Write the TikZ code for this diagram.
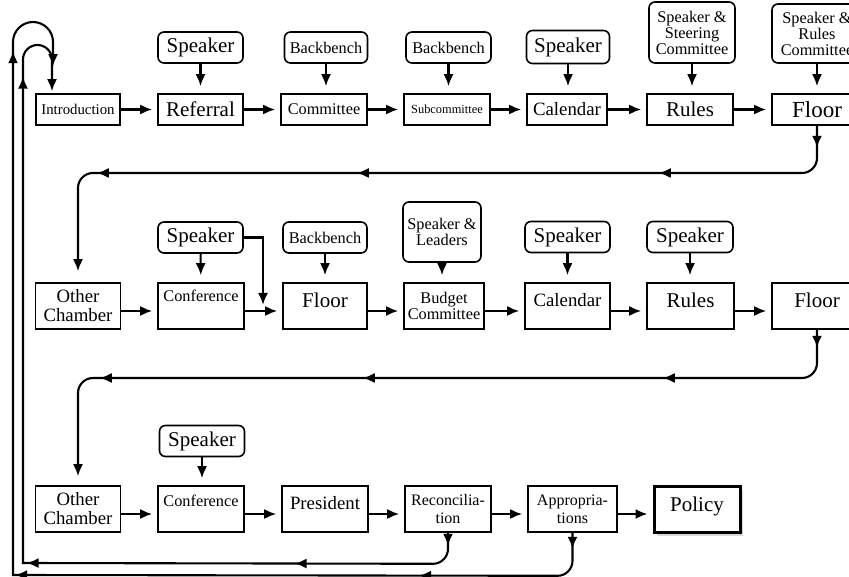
\documentclass[tikz,border=0pt]{standalone}
\usepackage{fontspec}
\setmainfont{Liberation Serif}
\usetikzlibrary{arrows.meta,calc,shadows,decorations.markings}
\newcommand{\headtip}{\arrow{Latex[length=12pt,width=10pt]}}

\begin{document}
\begin{tikzpicture}[x=1pt,y=1pt,
	box/.style={draw,line width=1.6pt,minimum height=31pt,inner sep=1pt,align=center},
	tall/.style={box,minimum height=46pt},
	actor/.style={draw,line width=1.6pt,rounded corners=6pt,minimum height=31pt,inner sep=1pt,align=center},
	lift/.style={text depth=#1},
	flow/.style={line width=2.1pt,-{Latex[length=12pt,width=10pt]}},
	feed/.style={flow,shorten >=7pt},
	next/.style={flow,shorten >=5pt},
	f23/.style={font=\fontsize{23}{23}\selectfont},
	f21/.style={font=\fontsize{21}{21}\selectfont},
	f19/.style={font=\fontsize{18.8}{19}\selectfont},
	f16/.style={font=\fontsize{16.3}{16}\selectfont},
	f15/.style={font=\fontsize{14.8}{15}\selectfont},
	f12/.style={font=\fontsize{12.4}{13}\selectfont}]
		\clip (0,0) rectangle (849,-577);
		% first chamber
		\node[box,minimum width=84pt,f15] (intro) at (78,-109.5) {Introduction};
		\node[box,minimum width=85pt,f21] (ref) at (200.5,-109.5) {Referral};
		\node[box,minimum width=86pt,f16] (comm) at (324,-109.5) {Committee};
		\node[box,minimum width=86pt,f12] (sub) at (447,-109.5) {Subcommittee};
		\node[box,minimum width=80pt,f19] (cal) at (567,-109.5) {Calendar};
		\node[box,minimum width=86pt,f21] (rules) at (690,-109.5) {Rules};
		\node[box,minimum width=90pt,f23] (floor) at (817,-109.5) {Floor};
		\node[actor,minimum width=85pt,f21] (s1) at (200.5,-47.5) {Speaker};
		\node[actor,minimum width=83pt,f16] (b1) at (326,-47.5) {Backbench};
		\node[actor,minimum width=85pt,f16] (b2) at (448.5,-47.5) {Backbench};
		\node[actor,minimum width=83pt,minimum height=33pt,f21] (s2) at (568,-47) {Speaker};
		\node[actor,minimum width=86pt,minimum height=61pt,f16] (ss) at (692,-32.5) {Speaker \&\\Steering\\Committee};
		\node[actor,minimum width=90pt,minimum height=59pt,f16] (sr) at (817,-33.5) {Speaker \&\\Rules\\Committee};
		% second chamber
		\node[tall,minimum width=85pt,f19] (oc2) at (78,-306) {Other\\Chamber};
		\node[tall,minimum width=86pt,f16,lift=20pt] (conf2) at (201,-306) {Conference};
		\node[tall,minimum width=84pt,f21,lift=12pt] (floor2) at (325,-306) {Floor};
		\node[tall,minimum width=80pt,f16] (budget) at (444,-306) {Budget\\Committee};
		\node[tall,minimum width=85pt,f19,lift=12pt] (cal2) at (567.5,-306) {Calendar};
		\node[tall,minimum width=87pt,f21,lift=12pt] (rules2) at (690.5,-306) {Rules};
		\node[tall,minimum width=90pt,f21,lift=12pt] (floor3) at (817,-306) {Floor};
		\node[actor,minimum width=85pt,f21] (s3) at (200.5,-237.5) {Speaker};
		\node[actor,minimum width=84pt,f16] (b3) at (325,-237.5) {Backbench};
		\node[actor,minimum width=78pt,minimum height=60pt,f16] (sl) at (442,-232) {Speaker \&\\Leaders};
		\node[actor,minimum width=85pt,f21] (s4) at (567.5,-237) {Speaker};
		\node[actor,minimum width=86pt,f21] (s5) at (690,-237) {Speaker};
		% final stage
		\node[tall,minimum width=85pt,f19] (oc3) at (78,-509) {Other\\Chamber};
		\node[tall,minimum width=86pt,f16,lift=16pt] (conf3) at (201,-509) {Conference};
		\node[tall,minimum width=86pt,f19,lift=12pt] (pres) at (325,-509) {President};
		\node[tall,minimum width=86pt,font=\fontsize{16}{18}\selectfont] (recon) at (448,-509) {Reconcilia-\\tion};
		\node[tall,minimum width=89pt,font=\fontsize{16}{18}\selectfont] (approp) at (572.5,-509) {Appropria-\\tions};
		\node[tall,minimum width=86pt,f21,lift=10pt,line width=3pt,fill=white,
			drop shadow={shadow xshift=3pt,shadow yshift=-4pt,fill=gray!60}] (policy) at (697,-509) {Policy};
		\node[actor,minimum width=85pt,f21] (s6) at (202,-441) {Speaker};
		% who acts on each stage
		\draw[feed] (s1) -- (ref);
		\draw[feed] (b1) -- (b1 |- comm.north);
		\draw[feed] (b2) -- (b2 |- sub.north);
		\draw[feed] (s2) -- (s2 |- cal.north);
		\draw[feed] (ss) -- (ss |- rules.north);
		\draw[feed] (sr) -- (floor);
		\draw[feed] (s3) -- (conf2);
		\draw[feed] (b3) -- (floor2);
		\draw[feed] (sl) -- (sl |- budget.north);
		\draw[feed] (s4) -- (s4 |- cal2.north);
		\draw[feed] (s5) -- (s5 |- rules2.north);
		\draw[feed] (s6) -- (s6 |- conf3.north);
		\coordinate (tee) at (263,-311);
		\draw[flow,shorten >=6pt] (s3.east) -| (tee);
		% stage to stage
		\draw[next] (intro) -- (ref);
		\draw[next] (ref) -- (comm);
		\draw[next] (comm) -- (sub);
		\draw[next] (sub) -- (cal);
		\draw[next] (cal) -- (rules);
		\draw[next] (rules) -- (floor);
		\draw[next] ([yshift=-5pt]oc2.east) -- ([yshift=-5pt]conf2.west);
		\draw[next] ([yshift=-5pt]conf2.east) -- ([yshift=-5pt]floor2.west);
		\draw[next] ([yshift=-5pt]floor2.east) -- ([yshift=-5pt]budget.west);
		\draw[next] ([yshift=-5pt]budget.east) -- ([yshift=-5pt]cal2.west);
		\draw[next] ([yshift=-5pt]cal2.east) -- ([yshift=-5pt]rules2.west);
		\draw[next] ([yshift=-5pt]rules2.east) -- ([yshift=-5pt]floor3.west);
		\draw[next] ([yshift=-5pt]oc3.east) -- ([yshift=-5pt]conf3.west);
		\draw[next] ([yshift=-5pt]conf3.east) -- ([yshift=-5pt]pres.west);
		\draw[next] ([yshift=-5pt]pres.east) -- ([yshift=-5pt]recon.west);
		\draw[next] ([yshift=-5pt]recon.east) -- ([yshift=-5pt]approp.west);
		\draw[next] ([yshift=-5pt]approp.east) -- ([yshift=-5pt]policy.west);
		% passing to the other chamber
		\coordinate (turn1) at (78,-173);
		\coordinate (turn2) at (78,-378);
		\draw[flow,shorten >=11pt,rounded corners=15pt,postaction={decorate,decoration={markings,
			mark=at position 22pt with {\headtip},mark=at position 199pt with {\headtip},
			mark=at position 501pt with {\headtip},mark=at position 761pt with {\headtip}}}]
			(floor.south) |- (turn1) -- (oc2.north);
		\draw[flow,shorten >=9pt,rounded corners=15pt,postaction={decorate,decoration={markings,
			mark=at position 18pt with {\headtip},mark=at position 196pt with {\headtip},
			mark=at position 496pt with {\headtip},mark=at position 759pt with {\headtip}}}]
			(floor3.south) |- (turn2) -- (oc3.north);
		% back to the start
		\draw[flow,shorten >=2pt,postaction={decorate,decoration={markings,
			mark=at position 13pt with {\headtip},mark=at position 178pt with {\headtip},
			mark=at position 446pt with {\headtip},mark=at position 936pt with {\headtip}}}]
			(recon.south) -- ++(0,-16) arc[start angle=0,end angle=-90,radius=15] -- (23,-563)
			-- (23,-59.5) arc[start angle=180,end angle=0,radius=14.5] -- ([xshift=-26pt]intro.north);
		\draw[flow,shorten >=27pt,postaction={decorate,decoration={markings,
			mark=at position 16pt with {\headtip},mark=at position 190pt with {\headtip},
			mark=at position 594pt with {\headtip},mark=at position 1120pt with {\headtip}}}]
			(approp.south) -- ++(0,-28) arc[start angle=0,end angle=-90,radius=15] -- (13,-575)
			-- (13,-42) arc[start angle=180,end angle=0,radius=20] -- ([xshift=-25pt]intro.north);
	\end{tikzpicture}
\end{document}
